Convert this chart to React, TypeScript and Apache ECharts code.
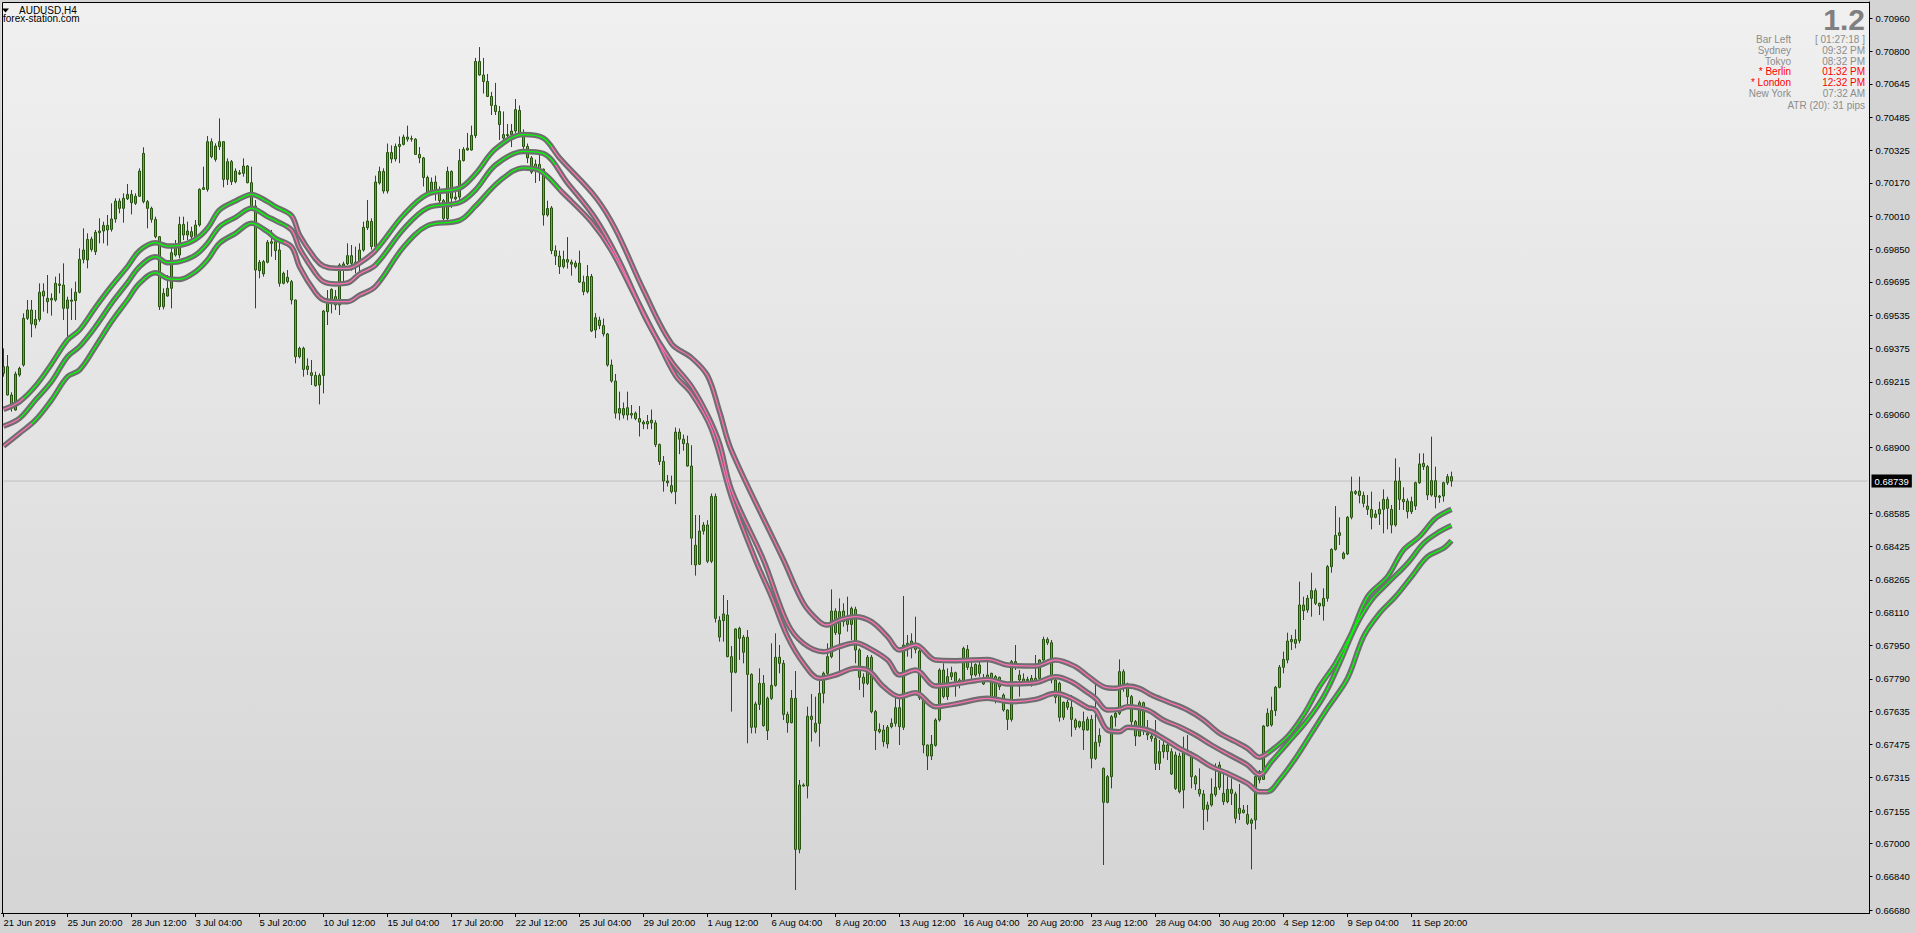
import React, { useEffect, useRef } from 'react';
import * as echarts from 'echarts';

// ---------- DATA (prices in pipettes: 69256 = 0.69256) ----------
const xLabels = ['21 Jun 2019', '25 Jun 20:00', '28 Jun 12:00', '3 Jul 04:00', '5 Jul 20:00', '10 Jul 12:00', '15 Jul 04:00', '17 Jul 20:00', '22 Jul 12:00', '25 Jul 04:00', '29 Jul 20:00', '1 Aug 12:00', '6 Aug 04:00', '8 Aug 20:00', '13 Aug 12:00', '16 Aug 04:00', '20 Aug 20:00', '23 Aug 12:00', '28 Aug 04:00', '30 Aug 20:00', '4 Sep 12:00', '9 Sep 04:00', '11 Sep 20:00'];
const yTicks = [0.7096, 0.708, 0.70645, 0.70485, 0.70325, 0.7017, 0.7001, 0.6985, 0.69695, 0.69535, 0.69375, 0.69215, 0.6906, 0.689, 0.68585, 0.68425, 0.68265, 0.6811, 0.6795, 0.6779, 0.67635, 0.67475, 0.67315, 0.67155, 0.67, 0.6684, 0.6668];
const currentPrice = 0.68739;

const opens = [
  69256,69288,69152,69080,69248,69296,69520,69560,69488,69515,
  69650,69600,69616,69608,69685,69680,69568,69608,69605,69645,
  69803,69800,69900,69840,69931,69939,69966,69947,69997,70083,
  70048,70094,70115,70072,70106,70312,70080,70048,69995,69912,
  69576,69627,69664,69824,69824,69971,69920,69936,69912,69968,
  70139,70139,70368,70283,70344,70368,70187,70272,70176,70219,
  70216,70251,70171,70059,69749,69733,69789,69880,69888,69848,
  69688,69717,69696,69608,69336,69376,69291,69259,69246,69200,
  69246,69552,69608,69624,69584,69771,69781,69821,69778,69784,
  69848,69955,69985,69865,70170,70225,70131,70316,70285,70345,
  70355,70390,70383,70380,70307,70290,70196,70128,70174,70131,
  70085,69999,70225,70102,70102,70277,70328,70328,70397,70753,
  70688,70657,70585,70542,70513,70402,70397,70402,70419,70518,
  70407,70345,70290,70260,70259,70236,70016,70050,69845,69819,
  69768,69802,69790,69768,69785,69694,69648,69721,69464,69511,
  69485,69445,69296,69219,69065,69056,69091,69063,69065,69039,
  69013,69025,69018,69018,68914,68833,68739,68717,68688,68974,
  68940,68919,68811,68336,68340,68499,68528,68354,68665,67990,
  68069,68096,67896,67821,68032,67989,67989,67811,67557,67667,
  67768,67541,67696,67758,67893,67864,67619,67579,67696,66971,
  67275,67275,67610,67536,67576,67720,67816,67896,68115,68005,
  68115,68075,68051,68123,67928,67797,67768,67893,67632,67547,
  67544,67477,67560,67576,67651,67557,67947,67971,67952,67923,
  67699,67472,67419,67470,67592,67832,67704,67800,67819,67784,
  67776,67931,67845,67808,67816,67765,67792,67816,67800,67797,
  67712,67640,67595,67848,67784,67776,67781,67765,67792,67792,
  67880,67979,67963,67784,67768,67605,67677,67653,67592,67560,
  67584,67544,67595,67408,67485,67360,67197,67320,67605,67624,
  67824,67765,67704,67584,67515,67675,67528,67515,67504,67384,
  67440,67472,67440,67264,67419,67256,67432,67424,67320,67259,
  67237,67163,67184,67234,67269,67240,67200,67259,67237,67168,
  67160,67139,67096,67112,67304,67307,67563,67568,67637,67749,
  67845,67880,67968,67960,67973,68144,68120,68176,68213,68139,
  68139,68176,68328,68411,68478,68368,68389,68565,68680,68691,
  68670,68619,68603,68565,68581,68603,68651,68603,68528,68739,
  68651,68643,68592,68619,68731,68824,68808,68672,68741,68661,
  68667,68731,68760,
];
const highs = [
  69376,69344,69165,69264,69288,69544,69608,69608,69560,69688,
  69688,69728,69640,69720,69736,69784,69624,69664,69696,69856,
  69952,69928,69912,69944,70000,69984,70016,70072,70096,70096,
  70120,70165,70136,70120,70240,70341,70088,70056,70008,69915,
  69664,69728,69864,69896,70008,70008,69984,69960,69992,70144,
  70248,70395,70384,70360,70480,70370,70288,70280,70240,70232,
  70288,70256,70248,70088,69800,69800,69896,69944,69920,69896,
  69744,69752,69704,69610,69384,69384,69328,69320,69264,69256,
  69560,69656,69664,69656,69784,69792,69880,69872,69864,69880,
  69984,70088,70000,70205,70248,70240,70359,70350,70359,70393,
  70402,70445,70397,70385,70342,70295,70205,70196,70205,70153,
  70093,70248,70230,70128,70333,70342,70410,70445,70770,70822,
  70770,70693,70607,70650,70539,70513,70453,70453,70573,70542,
  70427,70359,70299,70282,70307,70239,70085,70059,69870,69845,
  69845,69910,69802,69797,69845,69725,69776,69733,69545,69528,
  69519,69450,69322,69253,69168,69116,69168,69104,69073,69099,
  69031,69056,69082,69031,68919,68859,68768,68765,68996,68991,
  68962,68957,68911,68576,68576,68542,68551,68679,68679,68090,
  68192,68168,67947,68032,68040,68000,68024,67816,67680,67840,
  67808,67704,67960,68008,67952,67880,67632,67736,67827,67304,
  67288,67656,67717,67704,67800,67824,67960,68219,68128,68176,
  68152,68184,68136,68136,67936,67816,67904,67904,67640,67576,
  67568,67568,67600,67701,67696,68187,68000,68008,68088,67952,
  67712,67474,67520,67600,67840,67864,67840,67848,67824,67792,
  67944,67952,67880,67864,67872,67813,67883,67819,67808,67800,
  67720,67643,67880,67952,67832,67816,67800,67808,67904,67883,
  67992,67989,67976,67792,67776,67680,67688,67712,67600,67589,
  67632,67608,67616,67776,67552,67364,67328,67616,67648,67883,
  67835,67771,67712,67592,67685,67680,67592,67528,67592,67496,
  67496,67488,67456,67440,67435,67512,67520,67440,67328,67360,
  67256,67200,67312,67384,67392,67336,67320,67312,67248,67285,
  67184,67184,67120,67328,67352,67568,67648,67704,67755,67856,
  67920,68011,68000,68027,68256,68184,68192,68299,68224,68155,
  68224,68336,68416,68619,68565,68400,68571,68760,68696,68760,
  68688,68672,68688,68600,68640,68699,68664,68624,68848,68805,
  68709,68656,68664,68736,68872,68872,68816,68952,68808,68672,
  68736,68773,68784,
];
const lows = [
  69240,69150,69072,69077,69240,69288,69512,69429,69472,69504,
  69552,69544,69533,69600,69640,69512,69424,69512,69512,69640,
  69784,69760,69840,69824,69880,69880,69869,69936,69979,70024,
  69979,70088,70019,70064,70104,70072,69952,69979,69904,69560,
  69563,69624,69568,69816,69808,69896,69896,69880,69904,69960,
  70136,70128,70288,70272,70328,70149,70160,70160,70168,70208,
  70200,70168,70040,69568,69712,69720,69784,69816,69800,69672,
  69683,69688,69587,69304,69328,69240,69248,69200,69192,69107,
  69160,69488,69544,69560,69536,69688,69776,69749,69736,69736,
  69840,69944,69850,69855,70162,70119,70119,70265,70273,70265,
  70350,70368,70368,70304,70265,70153,70119,70119,70085,70059,
  69990,69990,70050,70085,70085,70273,70325,70325,70385,70685,
  70599,70582,70496,70496,70376,70376,70385,70342,70410,70402,
  70333,70265,70213,70170,70179,69965,70008,69828,69776,69733,
  69759,69759,69725,69759,69690,69631,69639,69454,69425,69468,
  69433,69288,69211,69039,69031,69039,69031,69039,69031,68953,
  68988,68988,68988,68902,68816,68688,68713,68679,68628,68868,
  68885,68808,68336,68285,68336,68482,68345,68345,68060,67968,
  67968,67893,67632,67816,67880,67864,67480,67528,67528,67640,
  67560,67496,67688,67752,67816,67592,67531,67576,66776,66952,
  67272,67216,67488,67528,67464,67672,67808,67888,68000,67816,
  68040,68016,67976,67864,67736,67701,67760,67624,67448,67528,
  67464,67456,67552,67560,67472,67544,67896,67888,67912,67688,
  67432,67352,67400,67464,67584,67696,67688,67784,67704,67744,
  67768,67832,67768,67800,67800,67760,67784,67688,67672,67736,
  67632,67544,67584,67832,67704,67760,67765,67752,67765,67784,
  67877,67952,67768,67672,67584,67592,67640,67512,67544,67552,
  67448,67541,67360,67400,67464,66896,67192,67264,67560,67616,
  67728,67656,67560,67467,67512,67520,67496,67488,67352,67352,
  67408,67400,67328,67256,67240,67168,67424,67264,67256,67224,
  67064,67104,67176,67224,67256,67184,67192,67184,67096,67112,
  67144,67088,66875,67067,67288,67304,67560,67560,67611,67744,
  67816,67864,67928,67936,67960,68072,68107,68088,68144,68096,
  68069,68160,68299,68405,68432,68363,68384,68555,68672,68632,
  68613,68576,68507,68560,68528,68488,68507,68488,68520,68600,
  68600,68560,68581,68600,68725,68792,68648,68664,68608,68635,
  68640,68720,68712,
];
const closes = [
  69288,69152,69090,69253,69280,69520,69560,69493,69515,69645,
  69627,69616,69608,69688,69678,69568,69608,69602,69645,69803,
  69848,69899,69851,69933,69939,69966,69944,69997,70083,70048,
  70096,70115,70075,70106,70227,70080,70048,69995,69912,69576,
  69640,69664,69835,69864,69971,69920,69939,69912,69968,70139,
  70147,70368,70296,70347,70368,70187,70272,70176,70227,70213,
  70251,70171,70048,69752,69789,69792,69885,69888,69845,69688,
  69736,69696,69608,69336,69376,69275,69275,69246,69197,69246,
  69555,69613,69659,69584,69776,69781,69821,69784,69789,69848,
  69957,69987,69865,70174,70225,70131,70316,70285,70345,70355,
  70390,70380,70380,70307,70290,70196,70122,70174,70131,70085,
  69999,70225,70097,70093,70277,70331,70337,70398,70753,70688,
  70657,70585,70542,70513,70450,70385,70402,70419,70522,70407,
  70345,70290,70222,70230,70236,70016,70047,69845,69819,69768,
  69802,69790,69780,69785,69694,69648,69721,69459,69523,69485,
  69445,69296,69219,69065,69087,69087,69056,69056,69039,69022,
  69022,69013,69031,68914,68833,68739,68731,68688,68974,68940,
  68919,68811,68465,68431,68499,68528,68354,68665,68080,68070,
  68101,67896,67821,68029,67984,67917,67811,67557,67669,67768,
  67565,67696,67758,67893,67864,67619,67579,67696,66971,67280,
  67280,67610,67595,67576,67720,67816,67896,68115,68011,68112,
  68064,68051,68128,67928,67797,67768,67893,67632,67541,67536,
  67488,67557,67576,67651,67560,67952,67960,67947,67931,67699,
  67472,67419,67475,67592,67832,67704,67800,67819,67773,67776,
  67936,67845,67808,67859,67856,67792,67808,67701,67704,67752,
  67640,67595,67872,67872,67808,67789,67787,67792,67776,67880,
  67979,67963,67784,67701,67605,67677,67653,67595,67557,67584,
  67544,67595,67408,67485,67518,67197,67320,67608,67624,67824,
  67765,67704,67584,67515,67675,67560,67520,67504,67384,67440,
  67472,67440,67333,67424,67248,67435,67448,67320,67285,67237,
  67163,67184,67237,67269,67376,67200,67259,67240,67120,67144,
  67147,67096,67112,67320,67344,67563,67624,67637,67749,67845,
  67883,67971,67979,67979,68144,68117,68176,68213,68152,68152,
  68176,68328,68411,68478,68491,68392,68565,68688,68688,68670,
  68632,68603,68565,68581,68603,68651,68608,68528,68739,68651,
  68640,68592,68640,68731,68821,68808,68672,68741,68664,68667,
  68731,68760,68739,
];

// band lines: [bar index, pipettes]
const upperBand = [
  [0,69083],[4,69120],[8,69195],[12,69301],[16,69416],[19,69464],[23,69573],[27,69675],[31,69768],[34,69845],
  [38,69883],[41,69867],[44,69870],[48,69899],[51,69952],[54,70040],[58,70083],[62,70115],[66,70080],[68,70056],
  [72,70013],[74,69920],[78,69805],[80,69771],[83,69760],[86,69760],[89,69785],[93,69845],[100,70016],[106,70116],
  [114,70145],[118,70213],[123,70333],[130,70402],[135,70385],[139,70290],[148,70102],[153,69948],[160,69656],[167,69399],
  [172,69331],[176,69245],[179,69073],[182,68885],[195,68360],[200,68152],[204,68064],[206,68048],[209,68072],[213,68088],
  [217,68064],[221,67992],[224,67928],[228,67952],[233,67880],[238,67877],[246,67883],[251,67856],[258,67851],[263,67880],
  [268,67848],[271,67805],[275,67752],[278,67744],[281,67755],[284,67744],[287,67712],[291,67680],[296,67640],[300,67592],
  [304,67528],[308,67488],[311,67456],[314,67413],[316,67432],[321,67512],[325,67616],[329,67752],[333,67864],[337,68008],
  [341,68184],[346,68280],[350,68408],[354,68472],[358,68560],[362,68603],
];
const middleBand = [
  [0,69003],[4,69040],[8,69128],[12,69216],[16,69336],[19,69384],[23,69480],[27,69592],[31,69691],[34,69768],
  [38,69816],[41,69787],[44,69792],[48,69824],[51,69880],[54,69960],[58,70005],[62,70048],[66,70008],[68,69989],
  [72,69944],[74,69856],[78,69736],[80,69696],[83,69685],[86,69690],[89,69733],[93,69776],[100,69948],[106,70050],
  [114,70076],[118,70136],[123,70256],[130,70321],[135,70311],[141,70170],[148,69999],[154,69793],[161,69502],[167,69313],
  [172,69193],[176,69056],[179,68919],[182,68696],[190,68360],[196,68056],[200,67960],[205,67920],[209,67944],[213,67963],
  [216,67941],[221,67880],[224,67808],[228,67832],[233,67755],[238,67765],[246,67787],[251,67765],[258,67771],[263,67800],
  [267,67776],[271,67724],[273,67696],[276,67640],[279,67643],[281,67656],[286,67640],[290,67592],[294,67560],[298,67520],
  [302,67472],[306,67429],[311,67376],[314,67328],[317,67392],[321,67480],[326,67592],[330,67704],[334,67864],[338,68040],
  [342,68168],[346,68248],[351,68344],[355,68440],[359,68496],[362,68526],
];
const lowerBand = [
  [0,68907],[4,68968],[8,69032],[12,69128],[16,69240],[19,69272],[23,69384],[27,69504],[31,69608],[34,69688],
  [38,69739],[41,69712],[44,69707],[48,69744],[51,69800],[54,69880],[58,69928],[62,69976],[66,69936],[68,69904],
  [72,69864],[74,69768],[78,69643],[80,69608],[83,69600],[86,69600],[89,69631],[93,69673],[100,69862],[106,69965],
  [114,69990],[118,70059],[124,70179],[130,70242],[134,70230],[140,70119],[147,69982],[152,69845],[158,69622],[163,69433],
  [168,69245],[172,69159],[177,68988],[182,68662],[188,68360],[192,68184],[196,67992],[200,67864],[204,67792],[208,67808],
  [213,67840],[216,67832],[220,67752],[224,67704],[228,67723],[233,67656],[238,67669],[246,67696],[252,67680],[258,67691],
  [263,67720],[267,67696],[271,67652],[273,67640],[276,67544],[279,67536],[281,67557],[286,67544],[290,67504],[294,67456],
  [298,67416],[302,67368],[306,67336],[311,67288],[314,67248],[316,67248],[319,67304],[323,67408],[327,67528],[331,67648],
  [336,67792],[340,67992],[344,68104],[348,68184],[352,68280],[356,68376],[360,68416],[362,68453],
];
// bar positions where each band switches colour (starts falling/pink)
const upperTurns = [4.5, 71.5, 92.5, 136.5, 316];
const middleTurns = [4, 70.5, 93, 137.5, 314.5];
const lowerTurns = [7, 69.5, 93.5, 139, 316];

const infoRows = [
  { label: 'Bar Left', value: '[ 01:27:18 ]', red: false },
  { label: 'Sydney', value: '09:32 PM', red: false },
  { label: 'Tokyo', value: '08:32 PM', red: false },
  { label: '* Berlin', value: '01:32 PM', red: true },
  { label: '* London', value: '12:32 PM', red: true },
  { label: 'New York', value: '07:32 AM', red: false },
];

// ---------- STYLE ----------
const FONT = '"Liberation Sans", Arial, sans-serif';
const PINK = '#ff6eb4';
const LIME = '#00ff00';
const OUTLINE = '#6e6e6e';
const BULL = '#4db22c';
const BEAR = '#d6764f';
const EDGE = '#25530f';
const GRAY_TXT = '#8c8c8c';
const TOTAL_SLOTS = 467;

function pieces(turns: number[]) {
  const out: any[] = [];
  let prev: number | null = null;
  let pink = true;
  turns.forEach((t) => {
    const p: any = { color: pink ? PINK : LIME, lt: t };
    if (prev !== null) p.gte = prev;
    out.push(p);
    prev = t;
    pink = !pink;
  });
  out.push({ gte: prev, color: pink ? PINK : LIME });
  return out;
}

export default function App() {
  const ref = useRef<HTMLDivElement>(null);
  useEffect(() => {
    const chart = echarts.init(ref.current!, null, { renderer: 'svg' });
    const cats = Array.from({ length: TOTAL_SLOTS }, (_, i) => String(i));
    const candles = opens.map((o, i) => [o / 1e5, closes[i] / 1e5, lows[i] / 1e5, highs[i] / 1e5]);
    const toLine = (arr: number[][]) => arr.map(([i, v]) => [i, v / 1e5]);
    const lastLabel = (xLabels.length - 1) * 16;
    const showIdx = (i: number) => i % 16 === 0 && i <= lastLabel;
    const bands = [upperBand, middleBand, lowerBand];
    const turns = [upperTurns, middleTurns, lowerTurns];

    const series: any[] = [
      {
        type: 'line',
        data: [[0, currentPrice], [TOTAL_SLOTS - 1, currentPrice]],
        symbol: 'none', silent: true, z: 1,
        lineStyle: { color: '#c0c0c0', width: 1 },
        endLabel: {
          show: true, distance: 4,
          formatter: () => currentPrice.toFixed(5),
          backgroundColor: '#000', color: '#fff', padding: [2, 3, 1, 3],
          fontSize: 9.5, fontFamily: FONT,
        },
      },
      {
        type: 'candlestick',
        data: candles,
        barWidth: 2,
        z: 2,
        itemStyle: { color: BULL, color0: BEAR, borderColor: EDGE, borderColor0: EDGE, borderColorDoji: EDGE, borderWidth: 1 },
      },
    ];
    bands.forEach((b) => {
      series.push({
        type: 'line', data: toLine(b), smooth: 0.35, symbol: 'none', z: 3,
        lineStyle: { color: OUTLINE, width: 5.5 }, silent: true,
      });
    });
    const visualMap: any[] = [];
    bands.forEach((b, k) => {
      series.push({
        type: 'line', data: toLine(b), smooth: 0.35, symbol: 'none', z: 4,
        lineStyle: { width: 1.3 }, silent: true,
      });
      visualMap.push({
        type: 'piecewise', show: false, dimension: 0, seriesIndex: series.length - 1,
        pieces: pieces(turns[k]),
      });
    });

    const graphic: any[] = [
      { type: 'line', shape: { x1: 2.5, y1: 2.5, x2: 1870, y2: 2.5 }, style: { stroke: '#000', lineWidth: 1 }, z: 100 },
      { type: 'line', shape: { x1: 2.5, y1: 2.5, x2: 2.5, y2: 913 }, style: { stroke: '#000', lineWidth: 1 }, z: 100 },
      { type: 'polygon', shape: { points: [[2, 8.5], [9, 8.5], [5.5, 12.5]] }, style: { fill: '#000' }, z: 100 },
      { type: 'text', x: 19, y: 10.5, z: 100, style: { text: 'AUDUSD,H4', fill: '#000', font: `10px ${FONT}`, textAlign: 'left', textVerticalAlign: 'middle' } },
      { type: 'text', x: 3, y: 18.5, z: 100, style: { text: 'forex-station.com', fill: '#000', font: `10px ${FONT}`, textAlign: 'left', textVerticalAlign: 'middle' } },
      { type: 'text', x: 1865, y: 19, z: 100, style: { text: '1.2', fill: '#808080', font: `bold 30px ${FONT}`, textAlign: 'right', textVerticalAlign: 'middle' } },
    ];
    const rowY = [39, 50, 61, 71.5, 82, 93];
    infoRows.forEach((r, k) => {
      const fill = r.red ? '#ff0000' : GRAY_TXT;
      graphic.push({ type: 'text', x: 1791, y: rowY[k], z: 100, style: { text: r.label, fill, font: `10px ${FONT}`, textAlign: 'right', textVerticalAlign: 'middle' } });
      graphic.push({ type: 'text', x: 1865, y: rowY[k], z: 100, style: { text: r.value, fill, font: `10px ${FONT}`, textAlign: 'right', textVerticalAlign: 'middle' } });
    });
    graphic.push({ type: 'text', x: 1865, y: 105, z: 100, style: { text: 'ATR (20): 31 pips', fill: GRAY_TXT, font: `10px ${FONT}`, textAlign: 'right', textVerticalAlign: 'middle' } });

    chart.setOption({
      animation: false,
      backgroundColor: '#d4d4d4',
      grid: {
        left: 1.5, top: 2, width: TOTAL_SLOTS * 4, height: 911, show: true, borderWidth: 0,
        backgroundColor: {
          type: 'linear', x: 0, y: 0, x2: 0, y2: 1,
          colorStops: [{ offset: 0, color: '#f0f0f0' }, { offset: 1, color: '#d5d5d5' }],
        },
      },
      xAxis: {
        type: 'category', data: cats, boundaryGap: true,
        axisLine: { show: true, lineStyle: { color: '#000', width: 1 } },
        axisTick: { show: true, alignWithLabel: true, interval: (i: number) => showIdx(i), length: 4, lineStyle: { color: '#000' } },
        axisLabel: {
          interval: (i: number) => showIdx(i),
          formatter: (_v: string, i: number) => xLabels[i / 16] ?? '',
          align: 'left', margin: 4, fontSize: 9.5, fontFamily: FONT, color: '#000',
        },
        splitLine: { show: false },
      },
      yAxis: {
        type: 'value', position: 'right', min: 0.666656, max: 0.710384, scale: true,
        axisLine: { show: true, lineStyle: { color: '#000', width: 1 } },
        axisTick: { show: true, length: 3, customValues: yTicks, lineStyle: { color: '#000' } },
        axisLabel: {
          customValues: yTicks, formatter: (v: number) => v.toFixed(5),
          margin: 6, fontSize: 9.5, fontFamily: FONT, color: '#000',
        },
        splitLine: { show: false },
      },
      visualMap,
      series,
      graphic,
    });
    return () => chart.dispose();
  }, []);
  return <div ref={ref} style={{ position: 'fixed', left: 0, top: 0, width: 1916, height: 933 }} />;
}
